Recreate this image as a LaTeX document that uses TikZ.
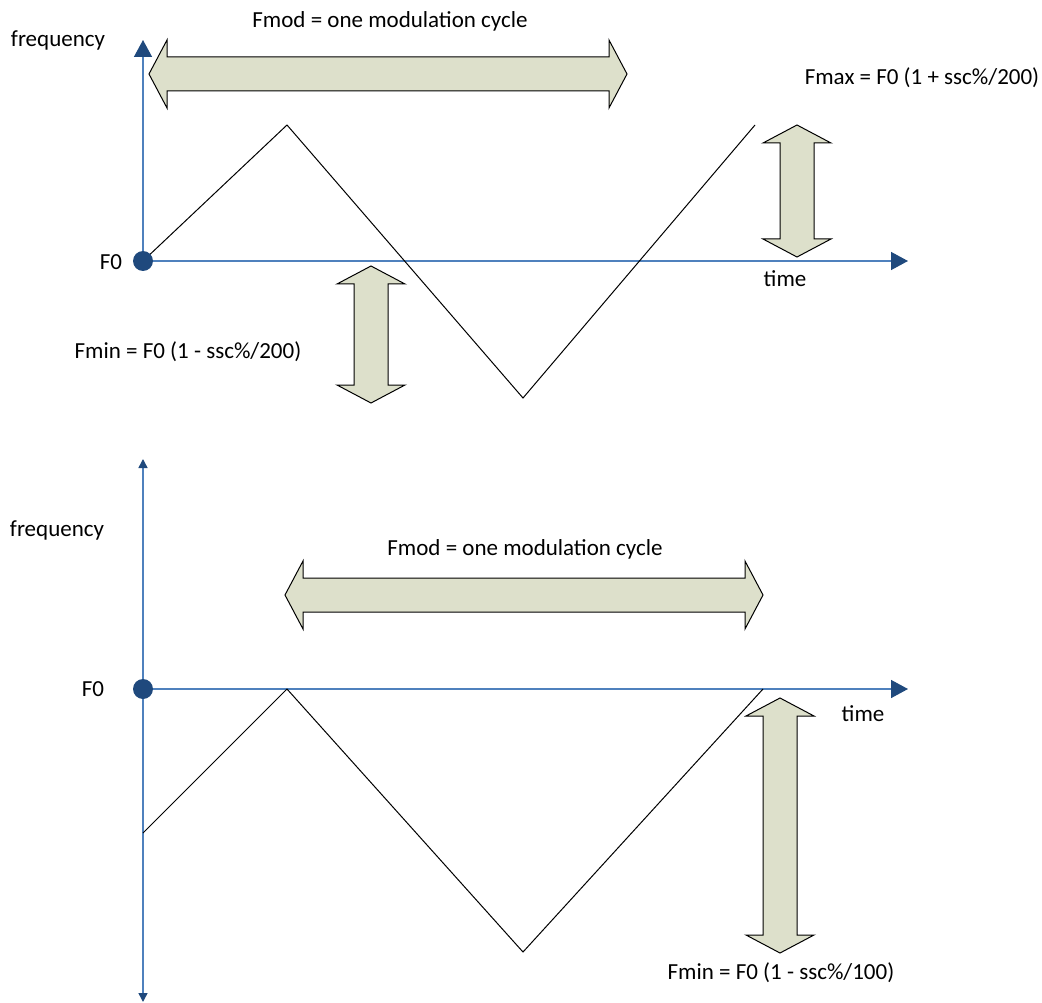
\documentclass[tikz,border=0pt]{standalone}
\usepackage{fontspec}
\setmainfont{Carlito}
\usetikzlibrary{arrows.meta}
\definecolor{axisline}{RGB}{79,129,189}
\definecolor{axishead}{RGB}{31,73,125}
\definecolor{arrowfill}{RGB}{221,224,203}
\newcommand{\HArrow}[3]{%
  \filldraw[bigarrow] (#1,#3) -- (#1+18,#3-34) -- (#1+18,#3-17) -- (#2-18,#3-17) -- (#2-18,#3-34) -- (#2,#3)
   -- (#2-18,#3+34) -- (#2-18,#3+17) -- (#1+18,#3+17) -- (#1+18,#3+34) -- cycle;}
\newcommand{\VArrow}[3]{%
  \filldraw[bigarrow] (#1,#2) -- (#1+34,#2+18) -- (#1+17,#2+18) -- (#1+17,#3-18) -- (#1+34,#3-18) -- (#1,#3)
   -- (#1-34,#3-18) -- (#1-17,#3-18) -- (#1-17,#2+18) -- (#1-34,#2+18) -- cycle;}
\begin{document}
\begin{tikzpicture}[x=1pt,y=-1pt,
  lbl/.style={font=\fontsize{23}{27}\selectfont, inner sep=0pt, text=black},
  axis/.style={draw=axisline, line width=1.5pt},
  bighead/.style={-{Triangle[length=17pt,width=18pt,color=axishead]}},
  smallhead/.style={-{Triangle[length=9pt,width=9pt,color=axishead]}},
  wave/.style={draw=black, line width=1pt, line join=miter},
  bigarrow/.style={draw=black, fill=arrowfill, line width=1pt, line join=miter},
  dot/.style={circle, fill=axishead, minimum size=20pt, inner sep=0pt}]
\path[use as bounding box] (0,0) rectangle (1042,1003);

% ---------- top diagram ----------
\coordinate (t0) at (143,261);
\coordinate (tytip) at (143,40);
\coordinate (txtip) at (908,261);
\draw[axis,bighead] (t0) -- (tytip);
\draw[axis,bighead] (t0) -- (txtip);
\coordinate (tw1) at (287,125);
\coordinate (tw2) at (523,398);
\coordinate (tw3) at (755,125);
\draw[wave] (t0) -- (tw1) -- (tw2) -- (tw3);
\node[dot] (tdot) at (t0) {};
\HArrow{149}{627}{74}
\VArrow{797}{125}{257}
\VArrow{371}{266}{403}
\node[lbl] (tfreq) at (58,40) {frequency};
\node[lbl] (tfmod) at (390,21) {Fmod = one modulation cycle};
\node[lbl] (tfmax) at (922,78) {Fmax = F0 (1 + ssc\%/200)};
\node[lbl] (tf0) at (111,262) {F0};
\node[lbl] (ttime) at (785,279) {time};
\node[lbl] (tfmin) at (188,352) {Fmin = F0 (1 - ssc\%/200)};

% ---------- bottom diagram ----------
\coordinate (b0) at (143,689);
\coordinate (bytop) at (143,459);
\coordinate (bybot) at (143,1002);
\coordinate (bxtip) at (908,689);
\draw[axis,smallhead] (b0) -- (bytop);
\draw[axis,smallhead] (b0) -- (bybot);
\draw[axis,bighead] (b0) -- (bxtip);
\coordinate (bw0) at (143,833);
\coordinate (bw1) at (287,689);
\coordinate (bw2) at (523,952);
\coordinate (bw3) at (763,689);
\draw[wave] (bw0) -- (bw1) -- (bw2) -- (bw3);
\node[dot] (bdot) at (b0) {};
\HArrow{285}{763}{595}
\VArrow{780}{698}{953}
\node[lbl] (bfreq) at (57,530) {frequency};
\node[lbl] (bfmod) at (525,549) {Fmod = one modulation cycle};
\node[lbl] (bf0) at (93,689) {F0};
\node[lbl] (btime) at (863,714) {time};
\node[lbl] (bfmin) at (781,973) {Fmin = F0 (1 - ssc\%/100)};
\end{tikzpicture}
\end{document}
